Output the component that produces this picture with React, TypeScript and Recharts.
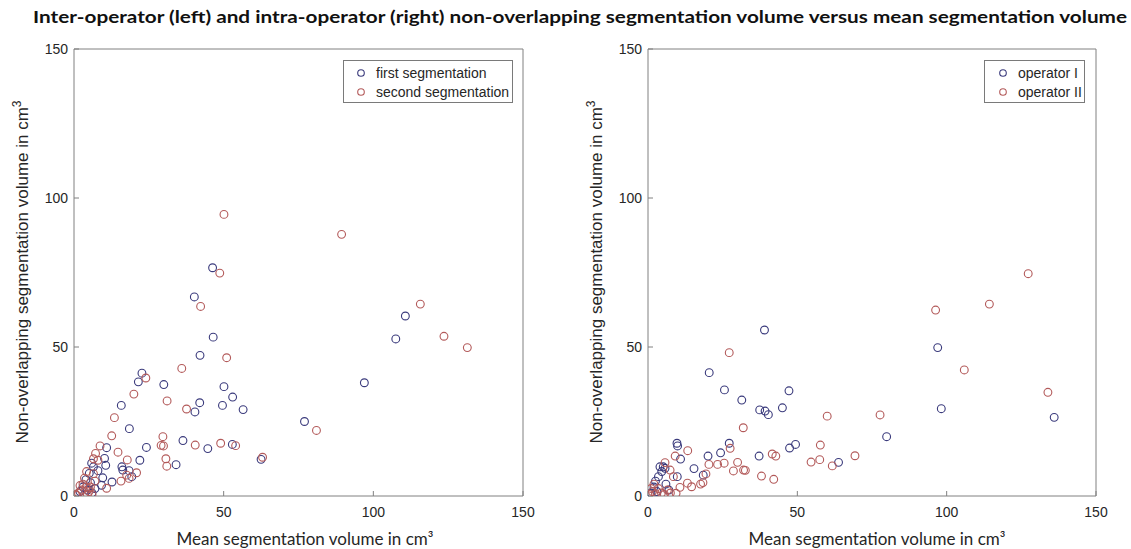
import { ScatterChart, Scatter, XAxis, YAxis, Legend } from "recharts";

// values, [mean volume, non-overlapping volume] in cm3
const interFirst: [number, number][] = [
  [46.3, 76.6], [40.2, 66.8], [46.5, 53.3], [42.1, 47.2], [22.7, 41.2], [21.5, 38.3],
  [30, 37.4], [50.1, 36.7], [110.7, 60.4], [107.5, 52.7], [97, 38], [77, 25], [62.5, 12.3],
  [42, 31.3], [49.6, 30.4], [53, 33.2], [56.5, 29], [40.4, 28.2], [15.8, 30.4], [18.5, 22.6],
  [36.4, 18.6], [44.7, 15.9], [52.9, 17.3], [24.2, 16.3], [10.9, 16.2], [34.1, 10.5], [22, 12],
  [16, 9.8], [16.3, 8.7], [18.4, 8.5], [19.3, 6.5], [12.7, 4.7], [9.6, 6.1], [9.2, 3.6],
  [10.2, 12.6], [10.6, 10.3], [5.9, 11], [6.5, 9.8], [5.1, 7.6], [3, 3], [4.5, 2], [5.5, 4.5],
  [6, 1], [2, 1.5], [7, 2.5], [4, 5.5], [3.5, 0.5], [8, 8.5],
];

const interSecond: [number, number][] = [
  [50.1, 94.5], [48.7, 74.8], [42.3, 63.6], [89.4, 87.8], [115.7, 64.4], [123.6, 53.6],
  [131.4, 49.8], [81, 22], [63, 13], [51, 46.4], [36, 42.8], [24, 39.6], [20, 34.2],
  [31.1, 31.9], [37.6, 29.2], [13.5, 26.3], [12.6, 20.2], [29.7, 19.9], [29.1, 17], [29.9, 16.8],
  [40.5, 17.1], [49, 17.7], [54, 16.9], [8.7, 16.8], [14.7, 14.7], [30.7, 12.5], [31, 10],
  [17.8, 12.1], [17.6, 7], [20.9, 7.8], [18.4, 5.9], [15.7, 5], [10.9, 2.6], [7.2, 14.3],
  [4.2, 8.2], [8, 12], [6.5, 12.5], [0.5, 0.5], [1.5, 1], [2.5, 2], [3, 4], [4, 3], [5, 1.5],
  [5.5, 3], [6, 0.5], [3.5, 6], [2, 3.5], [4.5, 0.5], [7, 5], [6.5, 7.5], [1, 0.2], [5, 2.5],
];

const intraFirst: [number, number][] = [
  [39, 55.7], [20.5, 41.4], [25.6, 35.6], [47.2, 35.3], [31.4, 32.2], [37.4, 28.9], [39.2, 28.5],
  [40.3, 27.3], [45, 29.6], [27.2, 17.7], [24.3, 14.5], [20.1, 13.4], [37.2, 13.4], [47.4, 16.1],
  [49.4, 17.3], [9.7, 17.7], [9.9, 16.8], [10.9, 12.4], [15.4, 9.2], [9.8, 6.5], [18.5, 7],
  [4, 9.8], [5.1, 9.8], [5.7, 9.3], [3.5, 6.5], [4.6, 8.2], [97, 49.8], [98.2, 29.3],
  [136, 26.4], [79.9, 19.9], [63.8, 11.3], [2, 3], [3, 1.5], [1, 1], [6, 4], [7, 2], [2.5, 5],
];

const intraSecond: [number, number][] = [
  [127.3, 74.6], [114.3, 64.4], [96.3, 62.4], [105.9, 42.3], [133.9, 34.8], [60, 26.8],
  [77.7, 27.2], [57.7, 17.1], [54.6, 11.4], [57.5, 12.2], [61.7, 10.1], [69.3, 13.5],
  [27.2, 48.1], [31.9, 22.9], [27.5, 16], [23.3, 10.6], [25.5, 11], [20.4, 10.6], [30, 11.3],
  [28.6, 8.4], [32, 8.7], [32.6, 8.6], [38, 6.7], [42.1, 5.6], [41.6, 14.1], [42.8, 13.4],
  [13.3, 15.2], [9.1, 13.4], [19.4, 7.4], [17.6, 4], [18.4, 4.5], [13.2, 4.3], [14.6, 3.1],
  [10.7, 2.9], [9.4, 0.9], [5.7, 11.2], [7.4, 8.7], [8.5, 6.5], [0.5, 0.5], [1.5, 1.5],
  [2.5, 0.8], [3.5, 2.5], [4.5, 1], [5.5, 0.5], [6.5, 2], [7.5, 1], [2, 4], [1, 2.5],
];

const ticks = [0, 50, 100, 150];
const BLUE = "#3a3a7c";
const RED = "#b35a5a";
const AXIS = "#808080";
const TICK_FONT = { fontSize: 14, fill: "#262626", fontFamily: "Liberation Sans, Arial, sans-serif" };

const toPoints = (pairs: [number, number][]) => pairs.map(([x, y]) => ({ x, y }));

const ring = (color: string) => (props: any) => (
  <circle cx={props.cx} cy={props.cy} r={3.9} fill="none" stroke={color} strokeWidth={1.1} />
);

function LegendBox({ payload, width, markerX, textX }: any) {
  return (
    <div
      style={{
        width,
        height: 41,
        border: "1px solid #7a7a7a",
        background: "#fff",
        position: "relative",
        fontFamily: "Liberation Sans, Arial, sans-serif",
        fontSize: 14,
        color: "#262626",
      }}
    >
      {(payload || []).map((p: any, i: number) => (
        <div key={i} style={{ position: "absolute", top: 3 + i * 19, left: 0, height: 18, width: "100%" }}>
          <svg width={12} height={18} style={{ position: "absolute", left: markerX - 6, top: 0 }}>
            <circle cx={6} cy={9} r={3.3} fill="none" stroke={p.color} strokeWidth={1.1} />
          </svg>
          <span style={{ position: "absolute", left: textX, top: 0, lineHeight: "18px", whiteSpace: "nowrap" }}>
            {p.value}
          </span>
        </div>
      ))}
    </div>
  );
}

function Panel({ width, margin, first, second, names, legend }: any) {
  return (
    <ScatterChart width={width} height={549} margin={margin}>
      <XAxis
        type="number"
        dataKey="x"
        domain={[0, 150]}
        ticks={ticks}
        height={1}
        tickSize={-5}
        tickMargin={16}
        stroke={AXIS}
        tick={TICK_FONT}
        allowDataOverflow
      />
      <XAxis
        xAxisId="top"
        orientation="top"
        type="number"
        domain={[0, 150]}
        ticks={ticks}
        height={1}
        tickSize={-5}
        tick={false}
        stroke={AXIS}
        allowDataOverflow
      />
      <YAxis
        type="number"
        dataKey="y"
        domain={[0, 150]}
        ticks={ticks}
        width={1}
        tickSize={-5}
        tickMargin={11}
        stroke={AXIS}
        tick={TICK_FONT}
        allowDataOverflow
      />
      <YAxis
        yAxisId="right"
        orientation="right"
        type="number"
        domain={[0, 150]}
        ticks={ticks}
        width={1}
        tickSize={-5}
        tick={false}
        stroke={AXIS}
        allowDataOverflow
      />
      <Legend
        layout="vertical"
        align="center"
        verticalAlign="middle"
        wrapperStyle={{ left: legend.left, top: 60, width: legend.width + 2 }}
        content={(props: any) => (
          <LegendBox payload={props.payload} width={legend.width} markerX={legend.markerX} textX={legend.textX} />
        )}
      />
      <Scatter
        name={names[0]}
        data={toPoints(first)}
        fill={BLUE}
        stroke={BLUE}
        shape={ring(BLUE)}
        isAnimationActive={false}
      />
      <Scatter
        name={names[1]}
        data={toPoints(second)}
        fill={RED}
        stroke={RED}
        shape={ring(RED)}
        isAnimationActive={false}
      />
    </ScatterChart>
  );
}

function YLabel({ cx }: { cx: number }) {
  return (
    <text
      transform={`translate(${cx},272) rotate(-90)`}
      textAnchor="middle"
      fontFamily="Liberation Sans, Arial, sans-serif"
      fontSize={17}
      fill="#262626"
    >
      Non-overlapping segmentation volume in cm
      <tspan dy={-7} fontSize={12}>3</tspan>
    </text>
  );
}

export default function App() {
  return (
    <div style={{ position: "absolute", left: 0, top: 0, width: 1131, height: 549, background: "#fff" }}>
      <div style={{ position: "absolute", left: 0, top: 0 }}>
        <Panel
          width={565}
          margin={{ top: 48, right: 41, bottom: 52, left: 73 }}
          first={interFirst}
          second={interSecond}
          names={["first segmentation", "second segmentation"]}
          legend={{ left: 343, width: 168, markerX: 17, textX: 32 }}
        />
      </div>
      <div style={{ position: "absolute", left: 565, top: 0 }}>
        <Panel
          width={566}
          margin={{ top: 48, right: 34, bottom: 52, left: 82 }}
          first={intraFirst}
          second={intraSecond}
          names={["operator I", "operator II"]}
          legend={{ left: 419, width: 99, markerX: 18, textX: 33 }}
        />
      </div>
      <svg width={1131} height={549} style={{ position: "absolute", left: 0, top: 0, pointerEvents: "none" }}>
        <text
          x={33}
          y={23}
          fontFamily="Lato, 'Open Sans', sans-serif"
          fontWeight={700}
          fontSize={17}
          fill="#111"
          textLength={1094}
          lengthAdjust="spacingAndGlyphs"
        >
          Inter-operator (left) and intra-operator (right) non-overlapping segmentation volume versus mean segmentation volume
        </text>
        <YLabel cx={28} />
        <YLabel cx={602} />
        <text x={305} y={545} textAnchor="middle" fontFamily="Lato, sans-serif" fontSize={17} fill="#262626">
          Mean segmentation volume in cm³
        </text>
        <text x={877} y={545} textAnchor="middle" fontFamily="Lato, sans-serif" fontSize={17} fill="#262626">
          Mean segmentation volume in cm³
        </text>
      </svg>
    </div>
  );
}
